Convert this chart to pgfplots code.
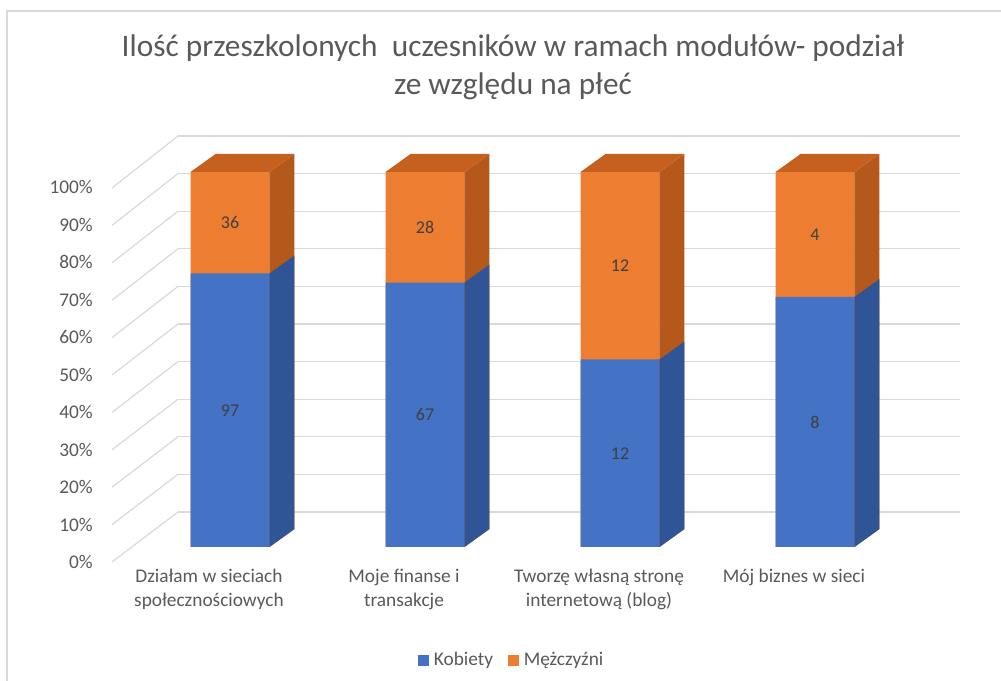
\documentclass[border=0pt]{standalone}
\usepackage{pgfplots}
\pgfplotsset{compat=1.18}
\usepackage{pgfplotstable}
\usepackage{fontspec}
\setmainfont{Carlito}
\definecolor{blueF}{HTML}{4472C4}
\definecolor{blueS}{HTML}{2F5597}
\definecolor{orF}{HTML}{ED7D31}
\definecolor{orS}{HTML}{B4581C}
\definecolor{orT}{HTML}{C6601F}
\definecolor{gridc}{HTML}{D9D9D9}
\definecolor{txt}{HTML}{595959}
\definecolor{lbl}{HTML}{404040}

\pgfplotstableread{
idx K M
0 97 36
1 67 28
2 12 12
3 8 4
}\data

\begin{document}
\begin{tikzpicture}[x=0.75pt,y=0.75pt]
\useasboundingbox (0,0) rectangle (1001,681);
\draw[gridc, line width=1.2pt] (7,0) -- (7,670) -- (1001,670);
\node[text=txt, font=\fontsize{23.5}{28.5}\selectfont, align=center] at (513,681-67) {Ilość przeszkolonych\ \ uczesników w ramach modułów- podział\\ze względu na płeć};

% side wall (left) gridlines
\foreach \v in {0,...,10} \draw[gridc, line width=0.9pt] (112, 681-562+37.4*\v) -- (178, 681-512+37.6*\v);

% back wall
\begin{axis}[
  at={(133.5pt,126.75pt)}, anchor=south west,
  scale only axis, width=586.5pt, height=282pt,
  xmin=0, xmax=1, ymin=0, ymax=100,
  axis line style={draw=none}, major tick length=0pt,
  xtick=\empty, ytick={0,10,...,100}, yticklabels={},
  ymajorgrids, grid style={gridc, line width=0.9pt},
]
\end{axis}

\begin{axis}[
  at={(99.375pt,100.5pt)}, anchor=south west,
  scale only axis, width=585pt, height=281.25pt,
  xmin=-0.5, xmax=3.5, ymin=0, ymax=100, clip=false,
  axis line style={draw=none}, major tick length=0pt,
  /pgf/number format/assume math mode=true,
  xtick={0,1,2,3},
  xticklabels={{Działam w sieciach\\społecznościowych},{Moje finanse i\\transakcje},{Tworzę własną stronę\\internetową (blog)},{Mój biznes w sieci}},
  xticklabel style={align=center, anchor=north, font=\fontsize{14.5}{18}\selectfont, text=txt, xshift=-15.75pt, yshift=-13pt},
  ytick={0,10,...,100},
  yticklabel={\pgfmathprintnumber{\tick}\%},
  yticklabel style={anchor=east, inner sep=0pt, font=\fontsize{14.5}{18}\selectfont, text=txt, xshift=-29.6pt, yshift=-11.25pt},
  legend style={at={(0.4865,-0.301)}, anchor=center, draw=none, fill=none, legend columns=2,
    font=\fontsize{14.5}{18}\selectfont, text=txt,
    /tikz/every even column/.append style={column sep=9pt}},
  legend image code/.code={\fill[#1] (0pt,-3.8pt) rectangle (7.6pt,3.8pt);},
  legend cell align=left,
]
% front faces
\addplot[ybar, bar width=0.405, bar shift=0pt, fill=orF, draw=none, forget plot]
  table[x=idx, y expr={100*(\thisrow{K}+\thisrow{M})/(\thisrow{K}+\thisrow{M})}] {\data};
\addplot[ybar, bar width=0.405, bar shift=0pt, fill=blueF, draw=none, forget plot]
  table[x=idx, y expr={100*\thisrow{K}/(\thisrow{K}+\thisrow{M})}] {\data};
% side and top faces
\pgfplotsforeachungrouped \i in {0,...,3}{
  \pgfplotstablegetelem{\i}{K}\of\data \let\kk\pgfplotsretval
  \pgfplotstablegetelem{\i}{M}\of\data \let\mm\pgfplotsretval
  \pgfmathsetmacro\p{100*\kk/(\kk+\mm)}
  \pgfmathsetmacro\pb{\p+4.8}
  \pgfmathsetmacro\xr{\i+0.2025}
  \pgfmathsetmacro\xl{\i-0.2025}
  \pgfmathsetmacro\xrb{\xr+0.1282}
  \pgfmathsetmacro\xlb{\xl+0.1282}
  \edef\tmp{%
    \noexpand\addplot[fill=orS, draw=none, forget plot] coordinates {(\xr,0) (\xrb,4.8) (\xrb,104.8) (\xr,100)} -- cycle;
    \noexpand\addplot[fill=blueS, draw=none, forget plot] coordinates {(\xr,0) (\xrb,4.8) (\xrb,\pb) (\xr,\p)} -- cycle;
    \noexpand\addplot[fill=orT, draw=none, forget plot] coordinates {(\xl,100) (\xlb,104.8) (\xrb,104.8) (\xr,100)} -- cycle;
  }\tmp
}
% data labels
\addplot[draw=none, mark=none, forget plot, nodes near coords, point meta=explicit,
  every node near coord/.append style={anchor=center, font=\fontsize{13.5}{16}\selectfont, text=lbl}]
  table[x=idx, y expr={50*\thisrow{K}/(\thisrow{K}+\thisrow{M})}, meta=K] {\data};
\addplot[draw=none, mark=none, forget plot, nodes near coords, point meta=explicit,
  every node near coord/.append style={anchor=center, font=\fontsize{13.5}{16}\selectfont, text=lbl}]
  table[x=idx, y expr={100*(\thisrow{K}+0.5*\thisrow{M})/(\thisrow{K}+\thisrow{M})}, meta=M] {\data};
\addlegendimage{blueF}\addlegendentry{\hspace{2pt}Kobiety}
\addlegendimage{orF}\addlegendentry{\hspace{2pt}Mężczyźni}
\end{axis}
\end{tikzpicture}
\end{document}
